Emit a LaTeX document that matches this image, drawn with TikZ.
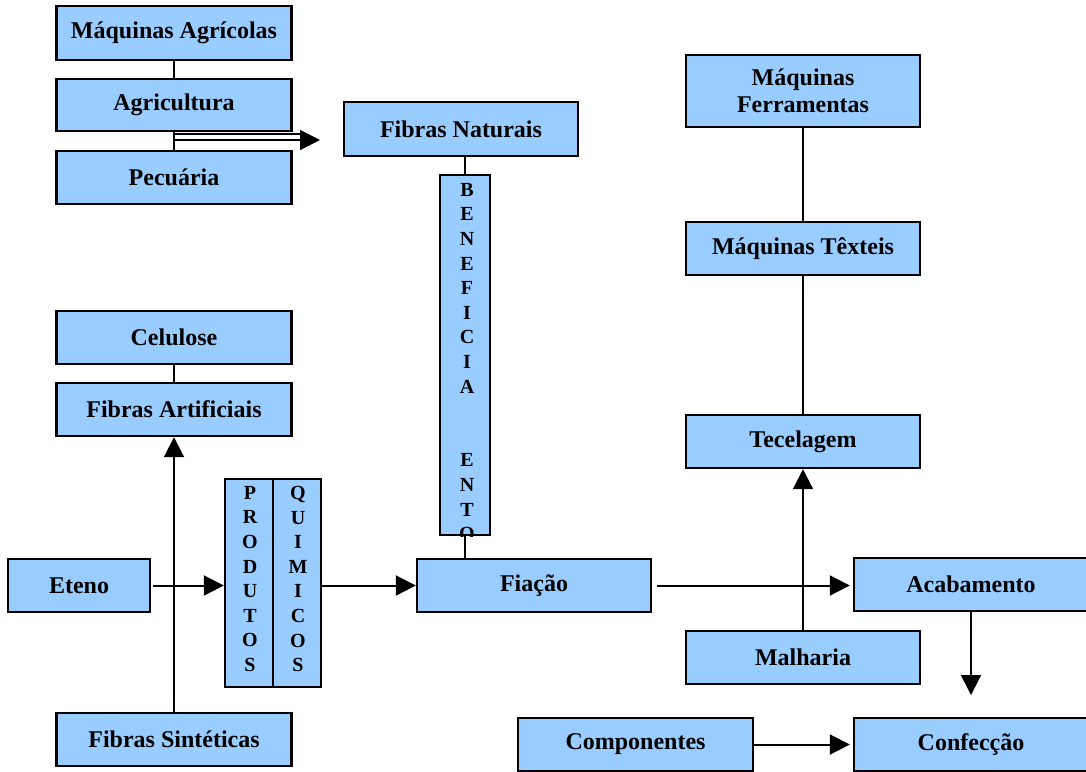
\documentclass[tikz,border=0pt]{standalone}
\usepackage{fontspec}
\setmainfont{Liberation Serif}
\usetikzlibrary{arrows.meta}
\definecolor{boxblue}{RGB}{153,204,255}
\begin{document}
\begin{tikzpicture}[x=1pt,y=-1pt,
  box/.style={draw=black, line width=2.4pt, fill=boxblue, inner sep=0pt,
    font=\bfseries\fontsize{24}{27}\selectfont, align=center},
  boxsize/.style 2 args={minimum width=#1pt, minimum height=#2pt},
  conn/.style={line width=2pt},
  arr/.style={conn, -{Triangle[length=20pt,width=20pt]}},
  vlet/.style={font=\bfseries\fontsize{20}{24.6}\selectfont, align=center,
    inner sep=0pt, anchor=north}]
\clip (0,0) rectangle (1086,771);
\fill[white] (0,0) rectangle (1086,771);

% natural fibres chain
\node[box, boxsize={235}{54}] (maqagr) at (174,33) {Máquinas Agrícolas};
\node[box, boxsize={235}{52}] (agric) at (174,105) {Agricultura};
\node[box, boxsize={235}{53}] (pecu) at (174,177.5) {Pecuária};
\node[box, boxsize={234}{54}] (fibnat) at (461,129) {Fibras Naturais};
\node[box, boxsize={50}{360}] (benef) at (465,355) {};

% man-made fibres chain
\node[box, boxsize={235}{53}] (celul) at (174,337.5) {Celulose};
\node[box, boxsize={235}{53}] (fibart) at (174,409.5) {Fibras Artificiais};
\node[box, boxsize={235}{53}] (fibsin) at (174,739.5) {Fibras Sintéticas};
\node[box, boxsize={142}{53}] (eteno) at (79,585.5) {Eteno};
\node[box, boxsize={96}{208}] (prod) at (273,583) {};

% textile chain
\node[box, boxsize={234}{53}] (fiacao) at (534,585.5) {Fiação};
\node[box, boxsize={234}{72}] (maqfer) at (803,91) {Máquinas\\Ferramentas};
\node[box, boxsize={234}{53}] (maqtex) at (803,248.5) {Máquinas Têxteis};
\node[box, boxsize={234}{53}] (tecel) at (803,441.5) {Tecelagem};
\node[box, boxsize={234}{53}] (malh) at (803,657.5) {Malharia};
\node[box, boxsize={234}{53}] (acab) at (971,584.5) {Acabamento};
\node[box, boxsize={234}{53}] (confec) at (971,744.5) {Confecção};
\node[box, boxsize={235}{53}] (compon) at (635.5,744.5) {Componentes};

% vertical lettering
\draw[conn] (prod.north) -- (prod.south);
\node[vlet] (prodtxt) at (250,486) {P\\R\\O\\D\\U\\T\\O\\S};
\node[vlet] (quimtxt) at (298,486) {Q\\U\\I\\M\\I\\C\\O\\S};
\begin{scope}
  \clip (benef.north west) rectangle (benef.south east);
  \node[vlet] (beneftxt) at (467,183)
    {B\\E\\N\\E\\F\\I\\C\\I\\A\\\strut\\\strut\\E\\N\\T\\O};
\end{scope}

% connectors
\draw[conn] (maqagr.south) -- (agric.north);
\draw[conn] (agric.south) -- (pecu.north);
\coordinate (agrtip) at (320,140);
\coordinate (agrtop) at (302,134);
\draw[arr] (agric.south |- agrtip) -- (agrtip);
\draw[conn] (agric.south |- agrtop) -- (agrtop);
\draw[conn] (fibnat.south -| benef.north) -- (benef.north);
\draw[conn] (benef.south) -- (benef.south |- fiacao.north);

\draw[conn] (celul.south) -- (fibart.north);
\draw[arr] (fibsin.north) -- (fibart.south);
\draw[arr, shorten <=2pt] (eteno.east) -- (eteno.east -| prod.west);
\draw[arr] (prod.east |- fiacao.west) -- (fiacao.west);

\draw[conn] (maqfer.south) -- (maqtex.north);
\draw[conn] (maqtex.south) -- (tecel.north);
\draw[arr] (malh.north) -- (tecel.south);
\draw[arr, shorten <=5pt, shorten >=3pt] (fiacao.east) -- (fiacao.east -| acab.west);
\coordinate (acabtip) at (971,695);
\draw[arr] (acab.south) -- (acabtip);
\draw[arr, shorten >=3pt] (compon.east) -- (confec.west);
\end{tikzpicture}
\end{document}
